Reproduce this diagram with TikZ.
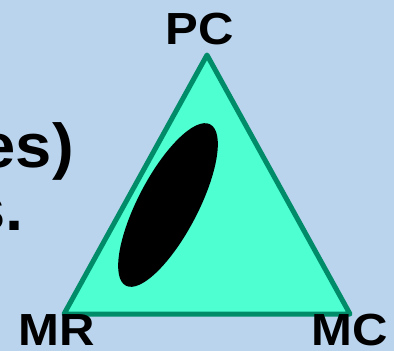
\documentclass[tikz,border=0pt]{standalone}
\usepackage{fontspec}
\setmainfont{Liberation Sans}
\usepackage{tikz}
\usetikzlibrary{calc}
\definecolor{SlideBlue}{RGB}{186,212,237}
\definecolor{EdgeGreen}{RGB}{0,140,105}
\definecolor{FillAqua}{RGB}{77,255,209}

\begin{document}
\begin{tikzpicture}[x=1pt, y=-1pt, font=\bfseries,
    vertexlabel/.style={inner sep=0pt, xscale=1.09, font=\fontsize{45}{45}\selectfont\bfseries},
    slidetext/.style={inner sep=0pt, anchor=base east, xscale=1.05, font=\fontsize{62}{62}\selectfont\bfseries}]
  % background of the slide
  \useasboundingbox (0,0) rectangle (394,351);
  \fill[SlideBlue] (0,0) rectangle (394,351);

  % cut-off slide text on the left
  \node[slidetext] (lineone) at (74,167) {es)};
  \node[slidetext] (linetwo) at (24,230) {s.};

  % triangle corners
  \coordinate (pc) at (207,55);
  \coordinate (mr) at (64,314);
  \coordinate (mc) at (350,314);
  \filldraw[fill=FillAqua, draw=EdgeGreen, line width=5pt, line join=round]
    (pc) -- (mc) -- (mr) -- cycle;

  % region inside the triangle
  \fill[black, rotate around={62.4:(168,205)}] (168,205) ellipse [x radius=91, y radius=30];

  % corner labels
  \node[vertexlabel, anchor=base] (pclabel) at (200,44) {PC};
  \node[vertexlabel, anchor=base west] (mrlabel) at (18.5,345) {MR};
  \node[vertexlabel, anchor=base west] (mclabel) at (311.5,345) {MC};
\end{tikzpicture}
\end{document}
